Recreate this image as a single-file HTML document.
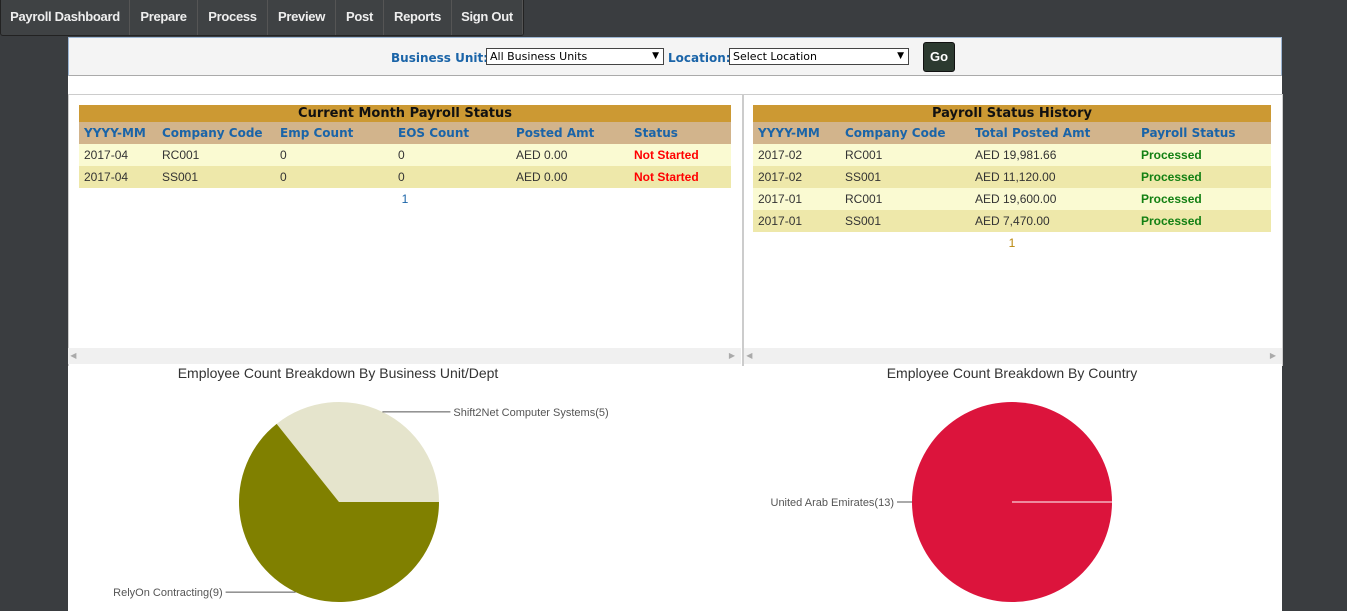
<!DOCTYPE html>
<html><head><meta charset="utf-8"><style>
body{margin:0;width:1347px;height:611px;overflow:hidden;background:#3a3d40;font-family:"Liberation Sans",sans-serif;position:relative}
.nav{position:absolute;left:0;top:0;width:522px;height:35px;background:#3f4244;border:1px solid #222;border-top:none;border-radius:0 0 3px 3px;display:flex;overflow:hidden}
.nav div{color:#eee;font-weight:bold;font-size:13px;line-height:34px;border-right:1px solid #555;white-space:nowrap;text-align:center;box-sizing:border-box;letter-spacing:-0.3px}
.main{position:absolute;left:68px;top:37px;width:1214px;height:574px;background:#fff}
.filter{position:absolute;left:0;top:0;width:1212px;height:37px;background:#f4f4f4;border:1px solid #9cb6d4;border-bottom:1px solid #aaa}
.lbl{position:absolute;top:13px;color:#1a64a8;font-weight:bold;font-size:12px;font-family:"DejaVu Sans",sans-serif}
.sel{position:absolute;top:10px;height:15px;border:1px solid #444;background:#fff;font-size:11px;font-family:"DejaVu Sans",sans-serif;line-height:15px;padding-left:3px;box-sizing:content-box}
.sel span{position:absolute;right:4px;font-size:9px}
.go{position:absolute;left:854px;top:4px;width:30px;height:28px;background:#2c3a30;border:1px solid #111;border-radius:3px;color:#fff;font-weight:bold;font-size:13px;text-align:center;line-height:28px}
.panel{position:absolute;top:57px;height:271px;border:1px solid #ccc;border-bottom:none}
table{position:absolute;border-collapse:collapse;font-size:12px}
th.t{background:#cc9933;color:#111;font-size:13px;height:17px;padding:0;font-family:"DejaVu Sans",sans-serif}
th.h{background:#d2b48c;color:#1a64a8;text-align:left;height:22px;padding:0 5px;font-family:"DejaVu Sans",sans-serif;font-size:12px}
td{height:22px;padding:0 5px;color:#333}
tr.a td{background:#fafad2}tr.b td{background:#eee8aa}
.ns{color:#ff0000;font-weight:bold}.pr{color:#138013;font-weight:bold}
.sb{position:absolute;top:311px;height:16px;background:#f0f0f0;font-size:8px;color:#aaa;line-height:16px}
</style></head><body>
<div class="nav">
<div style="width:129px">Payroll Dashboard</div>
<div style="width:68px">Prepare</div>
<div style="width:70px">Process</div>
<div style="width:68px">Preview</div>
<div style="width:48px">Post</div>
<div style="width:68px">Reports</div>
<div style="width:71px">Sign Out</div>
</div>
<div class="main">
<div class="filter">
<div class="lbl" style="left:322px">Business Unit:</div>
<div class="sel" style="left:417px;width:173px">All Business Units<span>▼</span></div>
<div class="lbl" style="left:599px">Location:</div>
<div class="sel" style="left:660px;width:175px">Select Location<span>▼</span></div>
<div class="go">Go</div>
</div>
<div class="panel" style="left:0;width:673px"></div>
<div class="panel" style="left:674px;width:538px;border-left:2px solid #ccc"></div>
<table style="left:11px;top:68px;width:652px">
<tr><th class="t" colspan="6">Current Month Payroll Status</th></tr>
<tr><th class="h" style="width:68px">YYYY-MM</th><th class="h" style="width:108px">Company Code</th><th class="h" style="width:108px">Emp Count</th><th class="h" style="width:108px">EOS Count</th><th class="h" style="width:108px">Posted Amt</th><th class="h">Status</th></tr>
<tr class="a"><td>2017-04</td><td>RC001</td><td>0</td><td>0</td><td>AED 0.00</td><td class="ns">Not Started</td></tr>
<tr class="b"><td>2017-04</td><td>SS001</td><td>0</td><td>0</td><td>AED 0.00</td><td class="ns">Not Started</td></tr>
<tr><td colspan="6" style="text-align:center;color:#1a64a8">1</td></tr>
</table>
<table style="left:685px;top:68px;width:518px">
<tr><th class="t" colspan="4">Payroll Status History</th></tr>
<tr><th class="h" style="width:77px">YYYY-MM</th><th class="h" style="width:120px">Company Code</th><th class="h" style="width:156px">Total Posted Amt</th><th class="h">Payroll Status</th></tr>
<tr class="a"><td>2017-02</td><td>RC001</td><td>AED 19,981.66</td><td class="pr">Processed</td></tr>
<tr class="b"><td>2017-02</td><td>SS001</td><td>AED 11,120.00</td><td class="pr">Processed</td></tr>
<tr class="a"><td>2017-01</td><td>RC001</td><td>AED 19,600.00</td><td class="pr">Processed</td></tr>
<tr class="b"><td>2017-01</td><td>SS001</td><td>AED 7,470.00</td><td class="pr">Processed</td></tr>
<tr><td colspan="4" style="text-align:center;color:#b8860b">1</td></tr>
</table>
<div class="sb" style="left:0;width:673px">&nbsp;◀<span style="position:absolute;right:6px">▶</span></div>
<div class="sb" style="left:676px;width:538px">&nbsp;◀<span style="position:absolute;right:6px">▶</span></div>
<svg style="position:absolute;left:0;top:0" width="1214" height="574" font-family="Liberation Sans,sans-serif">
<g id="pie1"></g><g id="pie2"></g>
</svg>
</div>
<script>
const deptLabels=["Shift2Net Computer Systems","RelyOn Contracting"];
const deptValues=[5,9];
const countryLabels=["United Arab Emirates"];
const countryValues=[13];
const NS="http://www.w3.org/2000/svg";
function mk(p,t,a){const e=document.createElementNS(NS,t);for(const k in a)e.setAttribute(k,a[k]);p.appendChild(e);return e;}
function pie(g,cx,cy,r,labels,values,colors,title,tx){
  const t=mk(g,'text',{x:tx,y:cy-124,'text-anchor':'middle','font-size':14,fill:'#333'});t.textContent=title;
  
  
  const tot=values.reduce((a,b)=>a+b,0);let a0=0;
  values.forEach((v,i)=>{
    const sw=v/tot*2*Math.PI;const a1=a0-sw;
    let s;
    if(v===tot){s=mk(g,'circle',{cx:cx,cy:cy,r:r,fill:colors[i]});mk(g,'line',{x1:cx,y1:cy,x2:cx+r,y2:cy,stroke:'#fff','stroke-width':1});}
    else{const x0=cx+r*Math.cos(a0),y0=cy+r*Math.sin(a0),x1=cx+r*Math.cos(a1),y1=cy+r*Math.sin(a1);
      s=mk(g,'path',{d:`M${cx},${cy}L${x0},${y0}A${r},${r} 0 ${sw>Math.PI?1:0} 0 ${x1},${y1}Z`,fill:colors[i]});}
    
    
    const am=(a0+a1)/2;const ex=cx+r*Math.cos(am),ey=cy+r*Math.sin(am);
    let lx=ex,ly=ey;
    if(v===tot){lx=cx-r;ly=cy;}
    const dir=(v===tot)?-1:(Math.cos(am)>=0?1:-1);
    const ex2=lx+dir*(v===tot?15:(Math.cos(am)>=0?68:70));
    mk(g,'polyline',{points:`${lx},${ly} ${ex2},${ly}`,fill:'none',stroke:'#555','stroke-width':1});
    const l=mk(g,'text',{x:ex2+dir*3,y:ly+4,'text-anchor':dir>0?'start':'end','font-size':11,fill:'#555'});
    l.textContent=labels[i]+'('+v+')';
    
    
    a0=a1;
  });
}
pie(document.getElementById('pie1'),271,465,100,deptLabels,deptValues,['#e5e4cc','#808000'],'Employee Count Breakdown By Business Unit/Dept',270);
pie(document.getElementById('pie2'),944,465,100,countryLabels,countryValues,['#dc143c'],'Employee Count Breakdown By Country',944);
</script>
</body></html>
